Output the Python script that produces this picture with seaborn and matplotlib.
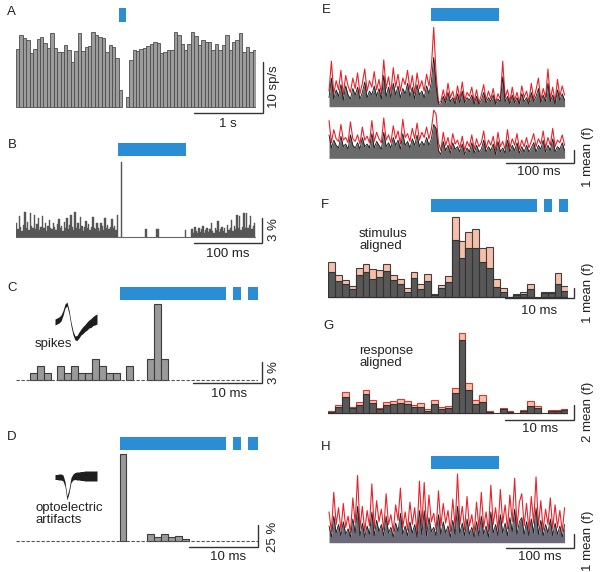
import numpy as np
import pandas as pd
import matplotlib
matplotlib.use("Agg")
import matplotlib.pyplot as plt
from matplotlib.patches import Rectangle
import seaborn as sns

# ---------------- data ----------------
# A: firing rate (sp/s), 50 ms bins starting at -1.5 s
a_rate = [11.4, 14.2, 13.6, 13.1, 10.5, 11.3, 13.3, 13.7, 12.6, 11.6,
          14.6, 11.6, 10.7, 10.8, 12.1, 11.1, 8.8, 11.0, 14.6, 10.9,
          11.8, 11.9, 14.7, 14.2, 13.7, 13.5, 10.8, 12.2, 11.8, 9.7,
          3.4, 0.0, 2.0,
          9.2, 11.1, 11.0, 11.4, 11.6, 11.9, 12.4, 12.7, 12.5, 10.6,
          10.8, 11.1, 11.2, 14.7, 14.2, 12.3, 11.2, 12.4, 14.8, 13.9,
          12.2, 13.1, 12.7, 12.7, 11.2, 12.4, 11.2, 12.1, 14.2, 11.2,
          12.7, 13.1, 14.6, 10.8, 11.8, 10.8, 11.1]
a_stim = [(0.0, 0.1)]

# B: spike probability (%), 2 ms bins starting at -150 ms
b_pre = [1.6, 0.9, 2.5, 1.2, 0.7, 1.4, 3.0, 1.0, 1.8, 0.8, 2.9, 1.3, 1.1, 2.6, 0.9,
         1.5, 2.2, 0.8, 1.2, 2.5, 1.0, 1.6, 0.7, 1.3, 2.0, 1.1, 0.9, 1.7, 1.2, 0.8,
         1.5, 2.1, 1.0, 1.3, 0.7, 1.8, 1.1, 2.3, 0.9, 1.4, 2.6, 1.2, 0.8, 3.0, 1.0,
         1.6, 0.9, 2.4, 1.3, 0.7, 1.2, 1.9, 1.0, 1.5, 0.8, 1.2, 2.4, 1.0, 0.9, 1.7,
         1.1, 0.7, 1.6, 1.3, 0.8, 2.2, 1.0, 1.4, 0.9, 1.2, 2.1, 1.0, 1.3, 0.8, 2.6]
b_during = [0, 0, 9.0, 0, 0, 0, 0, 0, 0, 0,
            0, 0, 0, 0, 0, 0, 0, 0, 0, 0,
            0.9, 0, 0, 0, 0, 0, 0, 0, 0.9, 0.9,
            0, 0, 0, 0, 0, 0, 0, 0, 0, 0,
            0, 0, 0, 0, 0, 0, 0, 0, 0, 0.8]
b_post = [0, 0, 0, 0, 0.9, 0.5, 1.2, 0.7, 0.4, 1.0,
          0.6, 0.9, 1.3, 0.5, 0.8, 1.1, 0.6, 0.9, 1.6, 0.7,
          0.5, 1.0, 0.8, 1.9, 0.6, 0.9, 1.2, 0.7, 1.0, 0.5,
          1.4, 0.8, 1.1, 2.0, 0.7, 1.3, 0.9, 2.6, 1.0, 2.5,
          0.8, 1.2, 2.9, 1.0, 2.8, 1.1, 1.4, 2.5, 0.9, 1.3, 1.7]
b_stim = [(0, 100)]

# C / D: probability (%), 1 ms bins starting at -15 ms
c_pct = [0, 0, 1.0, 1.9, 1.0, 0, 1.9, 1.0, 1.9, 1.0, 1.0, 2.9, 1.9, 1.0, 1.0,
         0, 1.9, 0, 0, 2.9, 10.8, 2.9, 0, 0, 0, 0, 0, 0, 0, 0, 0, 0, 0, 0, 0]
d_pct = [0, 0, 0, 0, 0, 0, 0, 0, 0, 0, 0, 0, 0, 0, 0,
         100, 0, 0, 0, 7.7, 4.6, 7.7, 3.9, 5.4, 1.5, 0, 0, 0, 0, 0, 0, 0, 0, 0, 0]
pulses = [(0, 15.5), (16.5, 17.6), (18.6, 20)]

# insets: mean waveform and half-spread (a.u.)
spike_mid = [-2, -1, 0, 2, 7, 14, 16, 8, -4, -13, -18, -18, -15, -12, -10, -8, -6, -4, -3, -1, 0, 1]
spike_sd = [3, 3, 3, 3, 2.5, 2, 2, 2, 2, 2, 2, 2.5, 3, 3, 3.5, 3.5, 4, 4, 4.5, 4.5, 5, 5]
artif_mid = [0, 0, 0, 0, -1, -7, -21, -14, -3, 0, 1, 1, 1, 1, 1, 1, 1, 1, 1, 1, 1, 1]
artif_sd = [2.5, 2.5, 3, 3, 3, 2.5, 2, 2, 2.5, 3, 3.5, 4, 4, 4.5, 4.5, 5, 5, 5, 5, 5, 5, 5]

# E: fluorescence (mean f), 3.5 ms samples starting at -150 ms
e1_red = [1.2, 3.5, 1.0, 2.0, 1.3, 2.8, 0.9, 2.4, 1.6, 1.1,
          2.2, 1.4, 2.6, 1.0, 1.8, 2.9, 1.2, 2.0, 1.5, 2.7,
          1.3, 2.1, 1.0, 3.6, 1.4, 2.3, 1.1, 3.0, 1.5, 2.5,
          1.2, 2.2, 1.7, 2.8, 1.3, 2.4, 1.0, 2.6, 1.4, 2.0,
          1.2, 2.5, 1.6, 3.0, 6.1, 2.5, 0.3, 0.4,
          1.3, 0.5, 1.8, 0.7, 1.2, 0.4, 1.6, 0.6, 1.9, 0.5,
          1.1, 0.8, 1.5, 0.4, 1.3, 0.3, 0.9, 1.7, 0.5, 1.2,
          0.6, 1.4, 0.3, 1.0, 0.6, 3.5, 0.7, 1.3, 0.4, 1.5,
          0.5, 1.1, 0.3, 1.6, 0.7, 1.2, 0.4, 1.8, 0.6, 1.3,
          2.2, 0.5, 1.4, 0.7, 2.9, 0.6, 1.5, 0.4, 2.1, 0.8, 1.6, 0.9]
e1_black = [0.7, 2.2, 0.6, 1.3, 0.8, 1.7, 0.5, 1.6, 0.9, 0.6,
            1.4, 0.9, 1.5, 0.6, 1.1, 1.9, 0.7, 1.2, 0.9, 1.6,
            0.8, 1.4, 0.6, 2.4, 0.8, 1.5, 0.7, 1.8, 0.9, 1.6,
            0.7, 1.4, 1.0, 1.8, 0.8, 1.5, 0.6, 1.7, 0.9, 1.2,
            0.7, 1.6, 1.0, 1.9, 3.8, 1.6, 0.2, 0.2,
            0.8, 0.3, 1.1, 0.4, 0.7, 0.2, 1.0, 0.3, 1.2, 0.3,
            0.7, 0.5, 0.9, 0.2, 0.8, 0.2, 0.5, 1.1, 0.3, 0.7,
            0.4, 0.9, 0.2, 0.6, 0.4, 2.3, 0.4, 0.8, 0.2, 0.9,
            0.3, 0.7, 0.2, 1.0, 0.4, 0.7, 0.2, 1.1, 0.4, 0.8,
            1.4, 0.3, 0.9, 0.4, 1.8, 0.4, 0.9, 0.2, 1.3, 0.5, 1.0, 0.5]
e2_red = [2.9, 1.2, 2.2, 1.5, 1.3, 2.6, 1.4, 1.6, 1.2, 2.8,
          1.5, 1.3, 1.8, 1.1, 2.4, 1.4, 1.7, 1.2, 2.9, 1.3,
          2.0, 1.5, 1.2, 3.1, 1.4, 1.8, 1.2, 2.5, 1.5, 2.1,
          1.1, 3.0, 1.6, 1.9, 1.3, 2.3, 1.5, 2.7, 1.4, 2.0,
          1.6, 2.4, 1.5, 2.2, 3.7, 3.4, 1.2, 0.6,
          2.0, 1.0, 1.6, 0.7, 1.9, 1.1, 1.4, 0.8, 1.7, 0.6,
          1.3, 0.9, 1.8, 0.7, 1.5, 0.9, 1.2, 2.1, 0.8, 1.4,
          1.0, 1.7, 0.6, 2.0, 0.9, 1.3, 0.7, 2.2, 0.8, 1.5,
          1.0, 1.9, 0.7, 1.4, 0.9, 1.6, 0.8, 1.3, 1.9, 0.9,
          1.5, 1.1, 2.1, 0.8, 1.6, 1.0, 2.3, 0.9, 1.4, 1.2, 1.8, 1.0]
e2_black = [1.8, 0.8, 1.4, 1.0, 0.8, 1.7, 0.9, 1.1, 0.7, 1.8,
            1.0, 0.8, 1.2, 0.7, 1.6, 0.9, 1.1, 0.8, 1.9, 0.8,
            1.3, 1.0, 0.7, 2.0, 0.9, 1.2, 0.8, 1.6, 1.0, 1.4,
            0.7, 1.9, 1.0, 1.3, 0.8, 1.5, 1.0, 1.8, 0.9, 1.3,
            1.0, 1.6, 1.0, 1.5, 2.6, 2.3, 0.6, 0.3,
            1.3, 0.6, 1.0, 0.4, 1.2, 0.7, 0.9, 0.5, 1.1, 0.3,
            0.8, 0.5, 1.2, 0.4, 1.0, 0.5, 0.7, 1.4, 0.5, 0.9,
            0.6, 1.1, 0.3, 1.3, 0.5, 0.8, 0.4, 1.4, 0.5, 1.0,
            0.6, 1.2, 0.4, 0.9, 0.5, 1.0, 0.5, 0.8, 1.2, 0.5,
            1.0, 0.7, 1.4, 0.5, 1.0, 0.6, 1.5, 0.5, 0.9, 0.7, 1.2, 0.6]

# F / G: mean f per 1 ms bin from -15 ms (total = salmon top, black = lower part)
f_total = [3.57, 2.23, 1.73, 1.13, 2.97, 3.3, 2.8, 2.73, 3.33, 2.23,
           1.8, 0.9, 2.57, 1.3, 2.3, 0.33, 1.2, 2.17, 8.0, 5.63,
           6.57, 6.83, 4.9, 5.07, 1.8, 0.9, 0.07, 0.33, 0.5, 1.33,
           0.0, 0.57, 0.57, 2.4, 1.13]
f_black = [2.5, 1.67, 1.33, 0.8, 2.23, 2.5, 1.83, 2.07, 2.67, 1.73,
           1.33, 0.57, 1.97, 0.8, 1.67, 0.23, 0.9, 1.57, 5.73, 3.97,
           4.9, 4.9, 3.5, 2.97, 1.0, 0.57, 0.03, 0.23, 0.33, 0.8,
           0.0, 0.4, 0.4, 1.33, 0.63]
g_total = [0.27, 1.02, 2.8, 0.8, 1.47, 3.02, 1.69, 0.58, 1.47, 1.6,
           1.78, 1.6, 1.02, 1.33, 0.44, 1.69, 0.8, 0.89, 3.24, 10.67,
           3.91, 1.69, 2.36, 0.22, 0.0, 0.67, 0.22, 0.0, 0.36, 1.6,
           0.93, 0.0, 0.36, 0.36, 0.53]
g_black = [0.13, 0.71, 2.04, 0.58, 1.02, 2.49, 1.24, 0.44, 1.02, 1.16,
           1.24, 1.16, 0.71, 0.8, 0.27, 1.16, 0.53, 0.58, 2.67, 9.69,
           3.02, 1.16, 1.47, 0.13, 0.0, 0.44, 0.13, 0.0, 0.22, 0.89,
           0.58, 0.0, 0.27, 0.27, 0.36]

# H: fluorescence (mean f), 3.5 ms samples from -150 ms
h_red = [2.2, 0.8, 3.6, 1.3, 2.5, 0.9, 2.8, 1.1, 1.9, 0.7,
         3.2, 1.4, 4.8, 1.0, 2.6, 0.8, 2.3, 1.2, 4.2, 1.0,
         3.0, 1.5, 2.4, 0.9, 3.5, 1.3, 2.0, 0.8, 2.7, 1.6,
         3.9, 1.1, 2.2, 0.9, 2.9, 1.3, 2.5, 0.7, 4.4, 1.2,
         4.3, 1.0, 3.4, 1.5, 2.1, 0.9, 3.7, 1.2, 2.8, 1.4,
         2.3, 0.8, 3.1, 1.1, 4.9, 1.3, 2.6, 0.9, 3.3, 1.2,
         2.0, 0.7, 2.9, 1.0, 3.6, 1.1, 2.2, 0.8, 4.1, 1.3,
         2.5, 0.9, 3.8, 1.4, 2.7, 1.0, 3.4, 1.5, 4.6, 1.1,
         2.9, 3.5, 1.2, 2.8, 0.9, 3.3, 1.4, 4.7, 1.2, 3.0,
         0.9, 2.4, 1.3, 3.2, 1.0, 2.7, 1.1, 2.3, 0.8, 2.5]
h_black = [1.2, 0.4, 1.9, 0.7, 1.3, 0.5, 1.5, 0.6, 1.0, 0.4,
           1.7, 0.7, 2.6, 0.5, 1.4, 0.4, 1.2, 0.6, 2.2, 0.5,
           1.6, 0.8, 1.3, 0.5, 1.9, 0.7, 1.1, 0.4, 1.4, 0.8,
           2.1, 0.6, 1.2, 0.5, 1.5, 0.7, 1.3, 0.4, 2.3, 0.6,
           2.3, 0.5, 1.8, 0.8, 1.1, 0.5, 2.0, 0.6, 1.5, 0.7,
           1.2, 0.4, 1.6, 0.6, 2.6, 0.7, 1.4, 0.5, 1.7, 0.6,
           1.1, 0.4, 1.5, 0.5, 1.9, 0.6, 1.2, 0.4, 2.2, 0.7,
           1.3, 0.5, 2.0, 0.7, 1.4, 0.5, 1.8, 0.8, 2.4, 0.6,
           1.5, 1.8, 0.6, 1.5, 0.5, 1.7, 0.7, 2.5, 0.6, 1.6,
           0.5, 1.3, 0.7, 1.7, 0.5, 1.4, 0.6, 1.2, 0.4, 1.3]
trace_t0, trace_dt = -150.0, 3.5

# ---------------- styling ----------------
BLUE = "#2b8dd3"
RED = "#e8222a"
INK = "#222222"
W, H = 600, 572

sns.set_style("white")
plt.rcParams["font.family"] = ["Liberation Sans", "DejaVu Sans"]

fig = plt.figure(figsize=(6, 5.72), dpi=100)
LIMS = {}


def panel(x0, x1, t0, t1, base, ppu, top, bot):
    """axes placed in pixel coords; base = pixel row of zero, ppu = pixels per unit"""
    ax = fig.add_axes([x0 / W, 1 - bot / H, (x1 - x0) / W, (bot - top) / H])
    ax.set_axis_off()
    LIMS[ax] = ((t0, t1), ((base - bot) / ppu, (base - top) / ppu))
    fx = lambda p: t0 + (p - x0) * (t1 - t0) / (x1 - x0)
    fy = lambda p: (base - p) / ppu
    return ax, fx, fy


def bars(ax, start, width, values, **kw):
    edges = start + width * np.arange(len(values) + 1)
    df = pd.DataFrame({"t": edges[:-1] + width / 2, "w": values})
    n0 = len(ax.patches)
    sns.histplot(data=df, x="t", weights="w", bins=list(edges), ax=ax,
                 stat="count", alpha=1, **kw)
    for p in ax.patches[n0:]:
        if p.get_height() <= 0:
            p.set_visible(False)


def stim(ax, fy, intervals, top_px, bot_px):
    for a, b in intervals:
        ax.add_patch(Rectangle((a, fy(bot_px)), b - a, fy(top_px) - fy(bot_px),
                               color=BLUE, lw=0, clip_on=False))


def scalebar(ax, fx, fy, xr_px, yb_px, xlen, ylen):
    xe, yb = fx(xr_px), fy(yb_px)
    ax.plot([xe - xlen, xe, xe], [yb, yb, yb + ylen], color="#333333", lw=1.0,
            clip_on=False, solid_joinstyle="miter")


def label(x, y, s, **kw):
    kw.setdefault("fontsize", 9.5)
    fig.text(x / W, 1 - y / H, s, color=INK, **kw)


def trace(ax, red, black, fill):
    tr = trace_t0 + trace_dt * np.arange(len(red))
    tb = trace_t0 + trace_dt * np.arange(len(black))
    ax.fill_between(tb, 0, black, color=fill, lw=0)
    sns.lineplot(x=tr, y=red, ax=ax, color=RED, lw=0.8)
    sns.lineplot(x=tb, y=black, ax=ax, color="#1a1a1a", lw=0.6)


def waveform(box, mid, sd):
    x0, y0, x1, y1 = box
    ax = fig.add_axes([x0 / W, 1 - y1 / H, (x1 - x0) / W, (y1 - y0) / H])
    ax.set_axis_off()
    n = np.arange(len(mid))
    lo = np.array(mid) - np.array(sd)
    hi = np.array(mid) + np.array(sd)
    ax.fill_between(n, lo, hi, color="#1e1e1e", lw=0)
    ax.set_xlim(-0.5, len(mid) - 0.5)
    return ax


# ---------------- A ----------------
ax, fx, fy = panel(16, 256, -1.5, 2.0, 107, 5.1, 0, 130)
bars(ax, -1.5, 0.05, a_rate, color="#9c9c9c", edgecolor="#4d4d4d", linewidth=0.6)
stim(ax, fy, a_stim, 8, 21.5)
scalebar(ax, fx, fy, 263, 113, 1.0, 10)
label(11, 12, "A", ha="center", va="center")
label(228, 124, "1 s", ha="center", va="center")
label(274, 87, "10 sp/s", rotation=90, ha="center", va="center")

# ---------------- B ----------------
ax, fx, fy = panel(16, 256, -150, 202.9, 236.7, 8.33, 130, 262)
b_all = b_pre + b_during + b_post
bars(ax, -150, 2, b_all, color="#565656", edgecolor="#565656", linewidth=0.3)
ax.plot([-150, 202], [0, 0], color="#666666", lw=0.8)
stim(ax, fy, b_stim, 143.3, 156)
scalebar(ax, fx, fy, 262, 243, 100, 3)
label(12, 145, "B", ha="center", va="center")
label(228, 254, "100 ms", ha="center", va="center")
label(274, 230, "3 %", rotation=90, ha="center", va="center")

# ---------------- C ----------------
ax, fx, fy = panel(16, 257.5, -15, 20, 379.5, 7.0, 275, 405)
ax.plot([-15, 20.2], [0, 0], color="#555555", lw=0.8, ls=(0, (3, 1.5)))
bars(ax, -15, 1, c_pct, color="#9a9a9a", edgecolor="#3c3c3c", linewidth=0.8)
stim(ax, fy, pulses, 287, 300)
scalebar(ax, fx, fy, 262, 383, 10, 3)
label(12, 288, "C", ha="center", va="center")
label(229, 394, "10 ms", ha="center", va="center")
label(274, 373, "3 %", rotation=90, ha="center", va="center")
wa = waveform((54, 298, 98, 346), spike_mid, spike_sd)
wa.set_ylim(-26, 22)
label(53, 344, "spikes", ha="center", va="center")

# ---------------- D ----------------
ax, fx, fy = panel(16, 257.5, -15, 20, 540.7, 0.864, 425, 570)
ax.plot([-15, 20.2], [0, 0], color="#555555", lw=0.8, ls=(0, (3, 1.5)))
bars(ax, -15, 1, d_pct, color="#9a9a9a", edgecolor="#3c3c3c", linewidth=0.8)
stim(ax, fy, pulses, 437, 450)
scalebar(ax, fx, fy, 258, 547, 10, 25)
label(12, 437, "D", ha="center", va="center")
label(228, 557, "10 ms", ha="center", va="center")
label(273, 537, "25 %", rotation=90, ha="center", va="center")
wd = waveform((54, 462, 98, 502), artif_mid, artif_sd)
wd.set_ylim(-25, 15)
label(35, 514, "optoelectric\nartifacts", ha="left", va="center", linespacing=1.1)

# ---------------- E ----------------
ax, fx, fy = panel(328, 568, -151.5, 201.5, 106.7, 13, 0, 112)
trace(ax, e1_red, e1_black, "#6a6a6a")
stim(ax, fy, b_stim, 8.3, 21)
ax2, fx2, fy2 = panel(328, 568, -151.5, 201.5, 158.3, 13, 100, 175)
trace(ax2, e2_red, e2_black, "#6a6a6a")
scalebar(ax2, fx2, fy2, 574, 163, 100, 1)
label(326, 10, "E", ha="center", va="center")
label(539, 172, "100 ms", ha="center", va="center")
label(588, 157, "1 mean (f)", rotation=90, ha="center", va="center")

# ---------------- F ----------------
ax, fx, fy = panel(328.3, 568.3, -15, 20, 297.3, 10, 190, 320)
ax.plot([-15, 20], [0, 0], color="#333333", lw=0.8)
bars(ax, -15, 1, f_total, color="#f6bfa9", edgecolor="#404040", linewidth=0.8)
bars(ax, -15, 1, f_black, color="#585858", edgecolor="#333333", linewidth=0.8)
stim(ax, fy, pulses, 199.3, 212.3)
scalebar(ax, fx, fy, 574, 298, 10, 1)
label(325, 205, "F", ha="center", va="center")
label(359, 240, "stimulus\naligned", ha="left", va="center", linespacing=1.1)
label(539, 311, "10 ms", ha="center", va="center")
label(588, 293, "1 mean (f)", rotation=90, ha="center", va="center")

# ---------------- G ----------------
ax, fx, fy = panel(328.3, 568.3, -15, 20, 412.7, 7.5, 318, 440)
ax.plot([-15, 20], [0, 0], color="#333333", lw=0.8)
bars(ax, -15, 1, g_total, color="#f6bfa9", edgecolor="#d93a2e", linewidth=0.8)
bars(ax, -15, 1, g_black, color="#585858", edgecolor="#333333", linewidth=0.8)
scalebar(ax, fx, fy, 574, 420, 10, 2)
label(329, 326, "G", ha="center", va="center")
label(359, 357, "response\naligned", ha="left", va="center", linespacing=1.1)
label(540, 429, "10 ms", ha="center", va="center")
label(588, 412, "2 mean (f)", rotation=90, ha="center", va="center")

# ---------------- H ----------------
ax, fx, fy = panel(328, 568, -151.5, 201.5, 542.7, 14, 440, 570)
trace(ax, h_red, h_black, "#6c6a78")
stim(ax, fy, b_stim, 456, 469)
scalebar(ax, fx, fy, 574, 548, 100, 1)
label(326, 447, "H", ha="center", va="center")
label(540, 557, "100 ms", ha="center", va="center")
label(588, 541, "1 mean (f)", rotation=90, ha="center", va="center")

for a, (xl, yl) in LIMS.items():
    a.set_xlim(*xl)
    a.set_ylim(*yl)

fig.savefig("out.png", dpi=100)
